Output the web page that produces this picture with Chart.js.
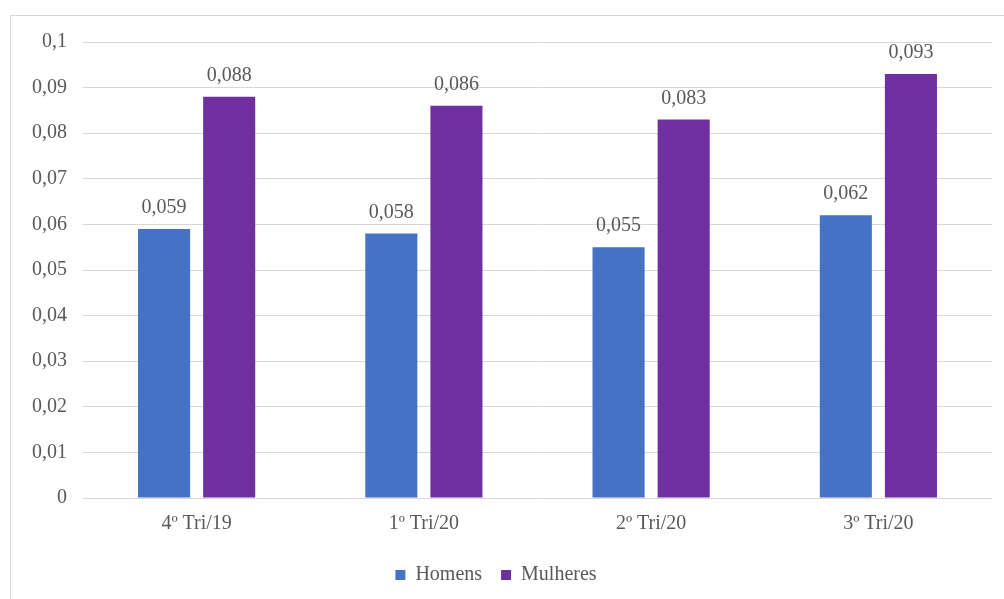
<!DOCTYPE html>
<html>
<head>
<meta charset="utf-8">
<script src="https://cdn.jsdelivr.net/npm/chart.js@4.4.1/dist/chart.umd.min.js"></script>
<style>
    html, body { margin: 0; padding: 0; background: #fff; overflow: hidden; }
    #frame { position: absolute; left: 10px; top: 15px; width: 1100px; height: 700px; border: 1px solid #d9d9d9; }
    #wrap { position: absolute; left: 0; top: 0; width: 1004px; height: 599px; }
</style>
</head>
<body>
<div id="frame"></div>
<div id="wrap"><canvas id="chart"></canvas></div>
<script>
const quarters = ['4º Tri/19', '1º Tri/20', '2º Tri/20', '3º Tri/20'];
const homens = [0.059, 0.058, 0.055, 0.062];
const mulheres = [0.088, 0.086, 0.083, 0.093];

const fmt = v => String(Number(v.toFixed(3))).replace('.', ',');

// value labels above each bar
const barLabels = {
    id: 'barLabels',
    afterDatasetsDraw(chart) {
        const ctx = chart.ctx;
        ctx.save();
        ctx.font = '20px "Liberation Serif", "Times New Roman", serif';
        ctx.fillStyle = '#595959';
        ctx.textAlign = 'center';
        ctx.textBaseline = 'alphabetic';
        chart.data.datasets.forEach((ds, i) => {
            chart.getDatasetMeta(i).data.forEach((bar, j) => {
                ctx.fillText(fmt(ds.data[j]), bar.x, bar.y - 16);
            });
        });
        ctx.restore();
    }
};

Chart.defaults.font.family = '"Liberation Serif", "Times New Roman", serif';
Chart.defaults.font.size = 20;
Chart.defaults.color = '#595959';

new Chart(document.getElementById('chart'), {
    type: 'bar',
    data: {
        labels: quarters,
        datasets: [
            { label: 'Homens', data: homens, backgroundColor: '#4472c4' },
            { label: 'Mulheres', data: mulheres, backgroundColor: '#7030a0' }
        ]
    },
    options: {
        responsive: true,
        maintainAspectRatio: false,
        animation: false,
        categoryPercentage: 0.573,
        barPercentage: 0.8,
        layout: { padding: { top: 42, right: 12, bottom: 4, left: 0 } },
        plugins: {
            legend: {
                position: 'bottom',
                labels: { boxWidth: 10, boxHeight: 10, padding: 19, color: '#595959' }
            },
            tooltip: { enabled: false }
        },
        scales: {
            x: {
                afterFit: s => { s.height += 4; },
                grid: { display: false },
                border: { display: false },
                ticks: { padding: 6 }
            },
            y: {
                min: 0,
                max: 0.1,
                afterFit: s => { s.width = 83; },
                grid: { color: '#d9d9d9', drawTicks: false },
                border: { display: false },
                ticks: { stepSize: 0.01, padding: 16, callback: v => fmt(v) }
            }
        }
    },
    plugins: [barLabels]
});
</script>
</body>
</html>
